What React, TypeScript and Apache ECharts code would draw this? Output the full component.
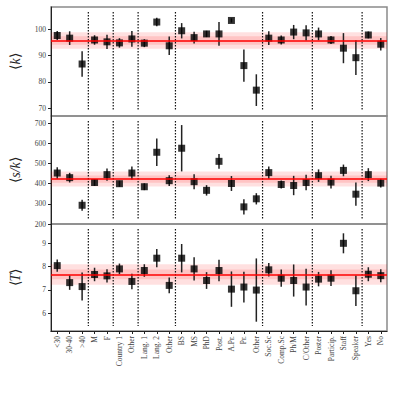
import React, { useEffect, useRef } from "react";
import * as echarts from "echarts";

const categories = ["<30", "30-40", ">40", "M", "F", "Country 1", "Other", "Lang. 1", "Lang. 2", "Other", "BS", "MS", "PhD", "Post.", "A.Pr.", "Pr.", "Other", "Soc.Sc", "Comp.Sc", "Ph/M", "C/Other", "Poster", "Particip.", "Staff", "Speaker", "Yes", "No"];

// group separators: after these category indices
const separatorsAfter = [2, 4, 6, 9, 16, 20, 24];

const kMean = [97.6, 96.6, 86.8, 95.9, 95.2, 94.8, 96.3, 94.7, 102.7, 93.7, 99.4, 96.8, 98.2, 98.2, 103.3, 86.2, 76.9, 96.6, 95.9, 98.9, 98.6, 98.2, 95.9, 92.8, 89.2, 97.8, 94.3];
const kErr = [1.7, 2.6, 4.8, 1.8, 2.7, 1.8, 3.0, 1.5, 1.6, 3.5, 2.9, 2.2, 1.2, 4.5, 0.8, 6.1, 6.0, 2.6, 1.7, 2.7, 2.9, 2.4, 1.5, 5.7, 6.6, 1.3, 2.4];

const skMean = [453, 430, 293, 406, 445, 400, 453, 385, 556, 415, 576, 410, 367, 511, 401, 285, 325, 455, 396, 391, 406, 440, 408, 466, 348, 445, 403];
const skErr = [29, 24, 27, 17, 30, 15, 32, 17, 68, 27, 115, 37, 26, 37, 37, 38, 28, 30, 20, 48, 39, 31, 32, 29, 58, 32, 22];

const tMean = [8.04, 7.31, 7.14, 7.66, 7.6, 7.9, 7.36, 7.83, 8.36, 7.19, 8.36, 7.9, 7.4, 7.83, 7.03, 7.12, 6.99, 7.86, 7.5, 7.4, 7.12, 7.46, 7.5, 9.0, 6.96, 7.67, 7.61];
const tErr = [0.26, 0.31, 0.6, 0.29, 0.29, 0.23, 0.33, 0.27, 0.39, 0.34, 0.61, 0.5, 0.36, 0.46, 0.76, 0.66, 1.36, 0.29, 0.37, 0.69, 0.79, 0.31, 0.34, 0.43, 0.66, 0.3, 0.28];

// overall mean and bands [mean, inner half-width, outer half-width]
const kOverall = [95.7, 1.6, 3.1];
const skOverall = [423, 18, 37];
const tOverall = [7.66, 0.21, 0.44];

const kTicks = [70, 80, 90, 100];
const skTicks = [200, 300, 400, 500, 600, 700];
const tTicks = [6, 7, 8, 9];

const FONT = "Liberation Serif";

export default function App() {
  const ref = useRef<HTMLDivElement>(null);
  useEffect(() => {
    if (!ref.current) return;
    const chart = echarts.init(ref.current, undefined, { renderer: "svg" });

    const panels = [
      { mean: kMean, err: kErr, overall: kOverall, ticks: kTicks, min: 67.1, max: 108.4, name: "{a|⟨}{b|k}{a|⟩}", top: 7, height: 109 },
      { mean: skMean, err: skErr, overall: skOverall, ticks: skTicks, min: 200, max: 736, name: "{a|⟨}{b|s/k}{a|⟩}", top: 116, height: 108 },
      { mean: tMean, err: tErr, overall: tOverall, ticks: tTicks, min: 5.23, max: 9.83, name: "{a|⟨}{b|T}{a|⟩}", top: 224, height: 107 },
    ];

    const grids = panels.map((p) => ({
      left: 43, right: 8, top: p.top, height: p.height,
      show: true, borderColor: "#8a8a8a", borderWidth: 1.5, backgroundColor: "transparent",
    }));

    const xAxes = panels.map((p, i) => ({
      type: "category",
      gridIndex: i,
      data: categories,
      boundaryGap: true,
      axisLine: { show: i === 2, lineStyle: { color: "#222", width: 1 } },
      axisTick: { show: i === 2, alignWithLabel: true, interval: 0, length: 3, lineStyle: { color: "#222" } },
      axisLabel: {
        show: i === 2, rotate: 90, interval: 0, fontSize: 7.5, fontFamily: FONT, color: "#444", margin: 5,
      },
      splitLine: { show: false },
    }));

    const yAxes = panels.map((p, i) => ({
      type: "value",
      gridIndex: i,
      min: p.min,
      max: p.max,
      name: p.name,
      nameLocation: "middle",
      nameGap: 29,
      nameRotate: 90,
      nameTextStyle: {
        rich: {
          a: { fontFamily: FONT, fontSize: 14, color: "#222" },
          b: { fontFamily: FONT, fontSize: 14, fontStyle: "italic", color: "#222" },
        },
      },
      axisLine: { show: true, lineStyle: { color: "#222", width: 1 } },
      axisTick: { show: true, length: 3, customValues: p.ticks, lineStyle: { color: "#222" } },
      axisLabel: { customValues: p.ticks, fontSize: 7.5, fontFamily: FONT, color: "#444", margin: 5 },
      splitLine: { show: false },
    }));

    const series: any[] = [];
    panels.forEach((p, i) => {
      const [m, inner, outer] = p.overall;
      series.push({
        type: "line",
        xAxisIndex: i,
        yAxisIndex: i,
        data: [],
        z: 1,
        silent: true,
        markArea: {
          silent: true,
          itemStyle: { color: "rgba(255,0,0,0.12)" },
          data: [
            [{ yAxis: m - outer }, { yAxis: m + outer }],
            [{ yAxis: m - inner }, { yAxis: m + inner }],
          ],
        },
        markLine: {
          silent: true,
          symbol: "none",
          label: { show: false },
          lineStyle: { color: "#ff0000", width: 1.6, type: "solid" },
          data: [{ yAxis: m }],
        },
      });
      series.push({
        type: "custom",
        xAxisIndex: i,
        yAxisIndex: i,
        z: 2,
        silent: true,
        data: separatorsAfter.map((s) => [s, p.mean[s]]),
        renderItem: (params: any, api: any) => {
          const idx = api.value(0);
          const x0 = api.coord([idx, api.value(1)])[0];
          const x1 = api.coord([idx + 1, api.value(1)])[0];
          const x = (x0 + x1) / 2;
          const cs = params.coordSys;
          return {
            type: "line",
            shape: { x1: x, y1: cs.y + 5, x2: x, y2: cs.y + cs.height - 5 },
            style: { stroke: "#111", lineWidth: 1.2, lineDash: [1.5, 1.5] },
          };
        },
      });
      series.push({
        type: "custom",
        xAxisIndex: i,
        yAxisIndex: i,
        z: 3,
        silent: true,
        data: p.mean.map((v, j) => [j, v - p.err[j], v + p.err[j]]),
        renderItem: (params: any, api: any) => {
          const a = api.coord([api.value(0), api.value(1)]);
          const b = api.coord([api.value(0), api.value(2)]);
          return {
            type: "line",
            shape: { x1: a[0], y1: a[1], x2: b[0], y2: b[1] },
            style: { stroke: "#222", lineWidth: 1.5 },
          };
        },
      });
      series.push({
        type: "scatter",
        xAxisIndex: i,
        yAxisIndex: i,
        z: 4,
        symbol: "rect",
        symbolSize: 7,
        itemStyle: { color: "#000" },
        data: p.mean.map((v, j) => [j, v]),
      });
    });

    chart.setOption({
      animation: false,
      backgroundColor: "#fff",
      grid: grids,
      xAxis: xAxes,
      yAxis: yAxes,
      series,
    });
    return () => chart.dispose();
  }, []);

  return <div ref={ref} style={{ width: 395, height: 395, position: "absolute", left: 0, top: 0 }} />;
}
